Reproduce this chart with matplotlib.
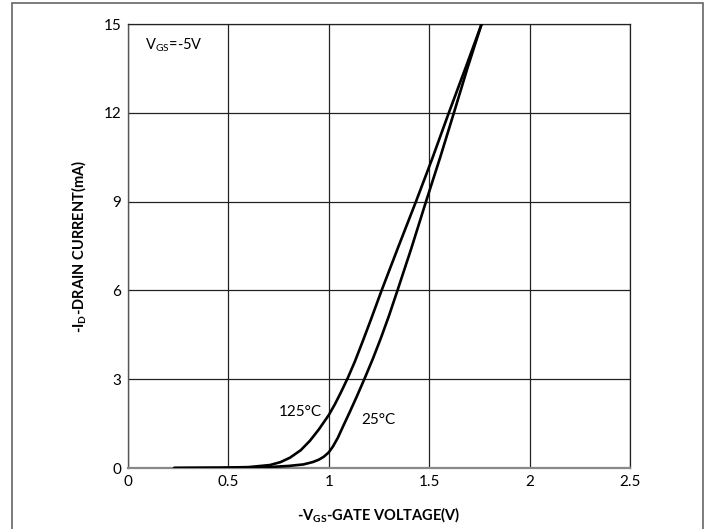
import numpy as np
import matplotlib
matplotlib.use("Agg")
import matplotlib.pyplot as plt
from matplotlib.patches import Rectangle

# =========================================================
# DATA
# =========================================================
V_125 = [0.23, 0.45, 0.60, 0.707, 0.76, 0.807, 0.86, 0.906, 0.95, 1.00,
         1.03, 1.06, 1.095, 1.13, 1.17, 1.21, 1.263, 1.345, 1.434, 1.515,
         1.595, 1.68, 1.761]
I_125 = [0.0, 0.01, 0.03, 0.10, 0.20, 0.35, 0.60, 0.92, 1.30, 1.79,
         2.15, 2.55, 3.05, 3.60, 4.30, 5.02, 6.00, 7.45, 9.00, 10.45,
         11.95, 13.5, 15.0]

V_25 = [0.23, 0.50, 0.70, 0.80, 0.873, 0.92, 0.95, 0.975, 1.00, 1.02,
        1.045, 1.072, 1.105, 1.139, 1.18, 1.22, 1.26, 1.30, 1.342, 1.41,
        1.484, 1.555, 1.623, 1.69, 1.761]
I_25 = [0.0, 0.005, 0.03, 0.07, 0.12, 0.20, 0.28, 0.38, 0.53, 0.72,
        1.02, 1.42, 1.90, 2.41, 3.05, 3.70, 4.40, 5.15, 6.00, 7.40,
        9.00, 10.5, 12.0, 13.5, 15.0]

X_TICKS = [0, 0.5, 1, 1.5, 2, 2.5]
X_TICKLABELS = ["0", "0.5", "1", "1.5", "2", "2.5"]
Y_TICKS = [0, 3, 6, 9, 12, 15]

# =========================================================
# STYLE
# =========================================================
plt.rcParams["font.family"] = ["Lato", "DejaVu Sans"]
plt.rcParams["mathtext.fontset"] = "custom"
plt.rcParams["mathtext.rm"] = "Lato"
plt.rcParams["mathtext.bf"] = "Lato:bold"

fig = plt.figure(figsize=(7.11, 5.29), dpi=100)
ax = fig.add_axes([128 / 711, 1 - 468 / 529, 502 / 711, 444 / 529])

# outer frame (bottom edge runs off the picture)
fig.patches.append(Rectangle((12 / 711, -0.05), 691 / 711, 1.05 - 3 / 529,
                             transform=fig.transFigure, fill=False,
                             edgecolor="#666666", linewidth=1.2))

ax.plot(V_125, I_125, color="black", lw=1.9, solid_capstyle="round",
        solid_joinstyle="round", zorder=3)
ax.plot(V_25, I_25, color="black", lw=1.9, solid_capstyle="round",
        solid_joinstyle="round", zorder=3)

ax.set_xlim(0, 2.5)
ax.set_ylim(0, 15)
ax.set_xticks(X_TICKS)
ax.set_xticklabels(X_TICKLABELS)
ax.set_yticks(Y_TICKS)
ax.tick_params(length=0, labelsize=11, pad=5)

ax.grid(True, color="#222222", linewidth=0.9)
ax.set_axisbelow(True)
for side in ["top", "right"]:
    ax.spines[side].set_color("#222222")
    ax.spines[side].set_linewidth(0.9)
ax.spines["left"].set_color("#555555")
ax.spines["bottom"].set_color("#888888")
ax.spines["left"].set_linewidth(1.0)
ax.spines["bottom"].set_linewidth(1.6)

ax.set_xlabel(r"-V$_{\mathregular{GS}}$-GATE VOLTAGE(V)", fontsize=10.5,
              fontweight="bold", labelpad=12)
ax.set_ylabel(r"-I$_{\mathregular{D}}$-DRAIN CURRENT(mA)", fontsize=10.5,
              fontweight="bold", labelpad=10)

ax.text(0.085, 14.3, r"V$_{\mathregular{GS}}$=-5V", fontsize=10.5,
        ha="left", va="center")
ax.text(0.857, 1.89, "125°C", fontsize=11, ha="center", va="center")
ax.text(1.245, 1.62, "25°C", fontsize=11, ha="center", va="center")

fig.savefig("out.png", dpi=100)
